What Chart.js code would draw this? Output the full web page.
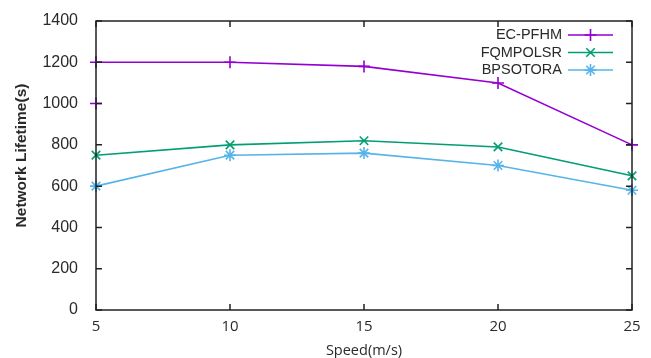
<!DOCTYPE html>
<html>
<head>
<meta charset="utf-8">
<script src="https://cdn.jsdelivr.net/npm/chart.js@4/dist/chart.umd.min.js"></script>
<style>
  html, body { margin: 0; padding: 0; background: #fff; }
  #wrap { width: 651px; height: 358px; }
</style>
</head>
<body>
<div id="wrap"><canvas id="lifetimeChart"></canvas></div>
<script>
(() => {
  "use strict";

  // ── data ─────────────────────────────────────────────────────────
  const speeds = [5, 10, 15, 20, 25];
  const ecPfhm = [1200, 1200, 1180, 1100, 800];
  const ecPfhmExtra = { x: 5, y: 1000 }; // stray marker at x=5
  const fqmpolsr = [750, 800, 820, 790, 650];
  const bpsotora = [600, 750, 760, 700, 580];
  const yTicks = [0, 200, 400, 600, 800, 1000, 1200, 1400];

  const toPoints = (vals) => vals.map((v, i) => ({ x: speeds[i], y: v }));

  const font = "'Liberation Sans', Arial, sans-serif";
  const xFont = "'Open Sans', 'Liberation Sans', sans-serif";
  const textColor = "#2a2a2a";
  const xTitle = "Speed(m/s)";
  const yTitle = "Network Lifetime(s)";

  // box border + inward, mirrored ticks (gnuplot style) + axis titles
  const framePlugin = {
    id: "frame",
    afterDraw(chart) {
      const { ctx, chartArea: a, scales } = chart;
      const len = 6;
      ctx.save();
      ctx.strokeStyle = "#222";
      ctx.lineWidth = 1.5;
      ctx.strokeRect(a.left, a.top, a.right - a.left, a.bottom - a.top);
      ctx.beginPath();
      scales.x.ticks.forEach((t) => {
        const px = scales.x.getPixelForValue(t.value);
        ctx.moveTo(px, a.bottom); ctx.lineTo(px, a.bottom - len);
        ctx.moveTo(px, a.top); ctx.lineTo(px, a.top + len);
      });
      scales.y.ticks.forEach((t) => {
        const py = scales.y.getPixelForValue(t.value);
        ctx.moveTo(a.left, py); ctx.lineTo(a.left + len, py);
        ctx.moveTo(a.right, py); ctx.lineTo(a.right - len, py);
      });
      ctx.stroke();

      ctx.fillStyle = textColor;
      ctx.textAlign = "center";
      ctx.textBaseline = "middle";
      ctx.font = "14.5px " + xFont;
      ctx.fillText(xTitle, (a.left + a.right) / 2, a.bottom + 41);

      // y axis title, sits a little above the plot's middle
      ctx.translate(22, (a.top + a.bottom) / 2 - 10);
      ctx.rotate(-Math.PI / 2);
      ctx.font = "bold 15.5px " + font;
      ctx.fillText(yTitle, 0, 0);
      ctx.restore();
    },
  };

  // legend: text right-aligned, line sample with marker on the right
  const keyPlugin = {
    id: "key",
    afterDraw(chart) {
      const { ctx, chartArea: a } = chart;
      const textRight = a.right - 70;
      const lineL = a.right - 64, lineR = a.right - 19;
      ctx.save();
      ctx.font = "14.5px " + font;
      ctx.textAlign = "right";
      ctx.textBaseline = "middle";
      chart.data.datasets.forEach((ds, i) => {
        const y = a.top + 14 + i * 17.5;
        ctx.fillStyle = textColor;
        ctx.fillText(ds.label, textRight, y);
        ctx.strokeStyle = ds.borderColor;
        ctx.lineWidth = 1.6;
        ctx.beginPath();
        ctx.moveTo(lineL, y); ctx.lineTo(lineR, y);
        ctx.stroke();
        ctx.fillStyle = ds.borderColor;
        Chart.helpers.drawPoint(ctx, {
          pointStyle: ds.pointStyle, radius: 6, rotation: 0,
          borderWidth: 1.6,
        }, (lineL + lineR) / 2, y);
      });
      ctx.restore();
    },
  };

  const series = (label, color, style, data) => ({
    label,
    data,
    borderColor: color,
    backgroundColor: color,
    pointStyle: style,
    pointRadius: 6,
    pointBorderWidth: 1.6,
    borderWidth: 1.6,
    tension: 0,
    clip: false,
  });

  const ec = series("EC-PFHM", "#9400d3", "cross", [ecPfhmExtra, ...toPoints(ecPfhm)]);
  // the 1000 -> 1200 jump runs along the y axis and is hidden there
  ec.segment = { borderColor: (c) => (c.p0DataIndex === 0 ? "rgba(0,0,0,0)" : undefined) };

  new Chart(document.getElementById("lifetimeChart"), {
    type: "line",
    data: {
      datasets: [
        ec,
        series("FQMPOLSR", "#009e73", "crossRot", toPoints(fqmpolsr)),
        series("BPSOTORA", "#56b4e9", "star", toPoints(bpsotora)),
      ],
    },
    options: {
      responsive: true,
      maintainAspectRatio: false,
      animation: false,
      layout: { padding: { top: 21, right: 19 } },
      plugins: { legend: { display: false }, tooltip: { enabled: false } },
      scales: {
        x: {
          type: "linear",
          min: 5,
          max: 25,
          grid: { display: false },
          border: { display: false },
          afterBuildTicks: (s) => { s.ticks = speeds.map((v) => ({ value: v })); },
          ticks: { color: textColor, font: { family: xFont, size: 15 }, padding: 0, maxRotation: 0, callback: (v) => String(v) },
          title: { display: false },
          afterFit: (s) => { s.height = 48; },
        },
        y: {
          min: 0,
          max: 1400,
          grid: { display: false },
          border: { display: false },
          afterBuildTicks: (s) => { s.ticks = yTicks.map((v) => ({ value: v })); },
          ticks: { color: textColor, font: { family: font, size: 16 }, padding: 10, callback: (v) => String(v) },
          title: { display: false },
          afterFit: (s) => { s.width = 96; },
        },
      },
    },
    plugins: [framePlugin, keyPlugin],
  });
})();
</script>
</body>
</html>
